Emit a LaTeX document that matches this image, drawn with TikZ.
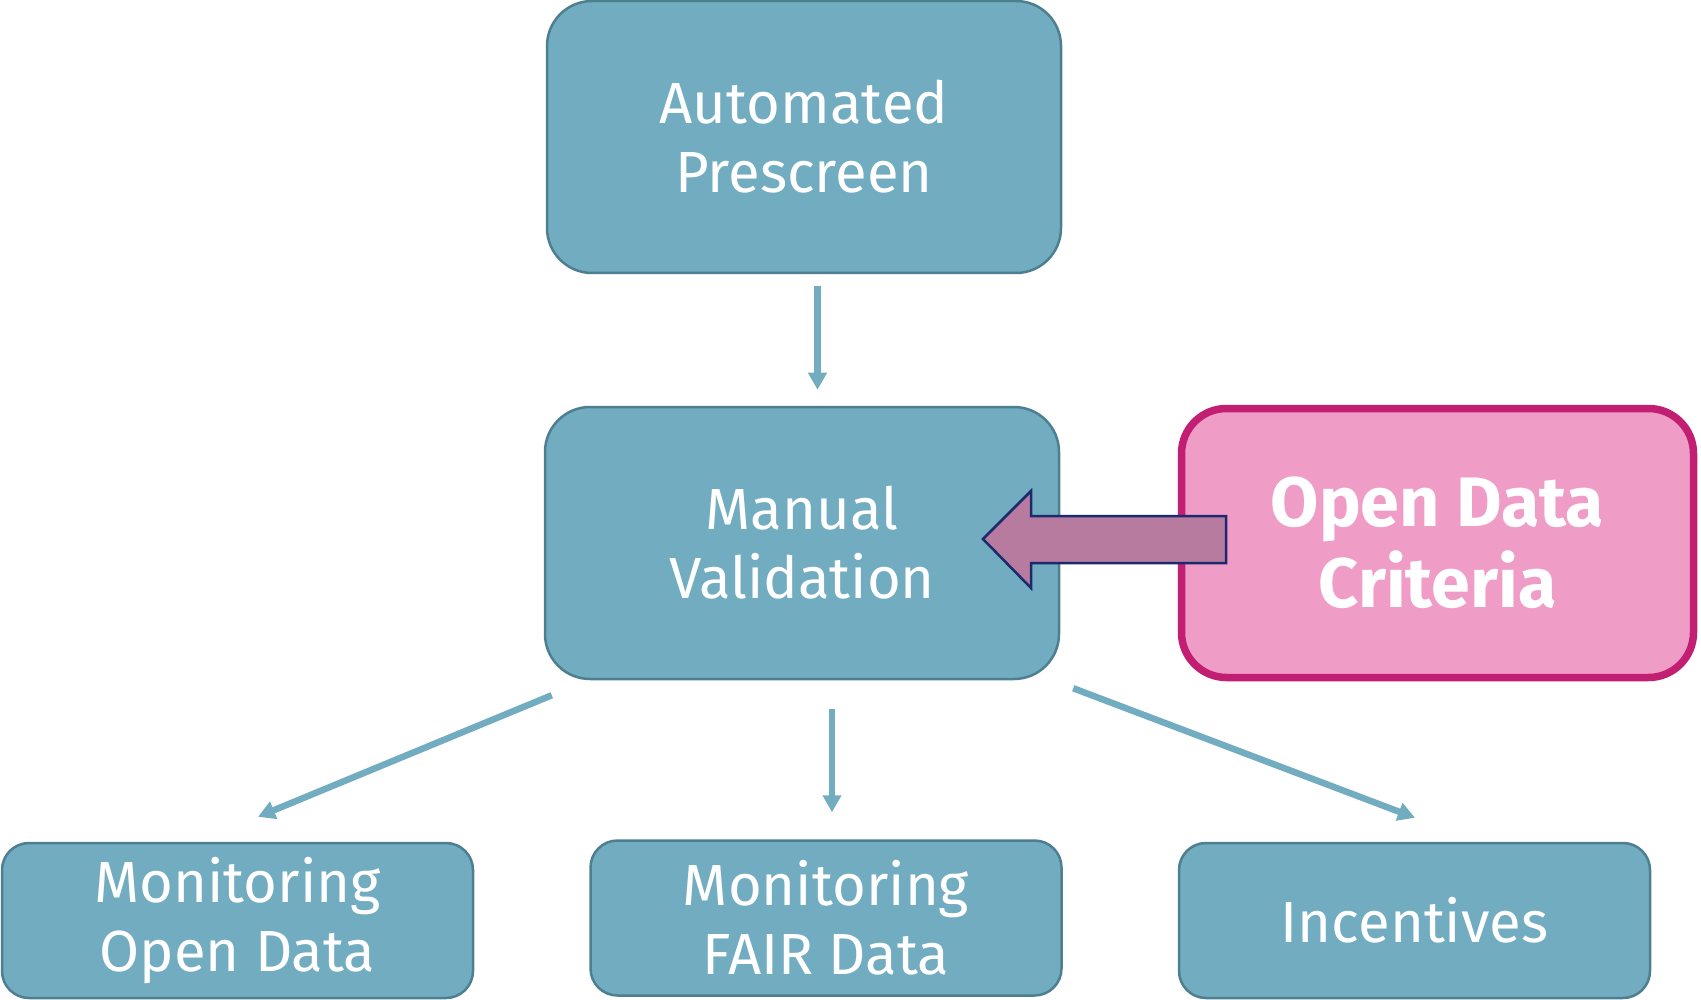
\documentclass[tikz,border=0pt]{standalone}
\usepackage{fontspec}
\setmainfont{Fira Sans}
\usetikzlibrary{arrows.meta}
\definecolor{boxblue}{HTML}{71ACC0}
\definecolor{boxedge}{HTML}{4E7F90}
\definecolor{pinkfill}{HTML}{EF9CC6}
\definecolor{pinkedge}{HTML}{C21F73}
\definecolor{arrfill}{HTML}{B87BA0}
\definecolor{arredge}{HTML}{1A2A6C}
\tikzset{
  bluebox/.style={draw=boxedge, fill=boxblue, line width=2.5pt, text=white,
    align=center, inner sep=0pt, font=\fontsize{58}{69}\selectfont},
  bigbox/.style={bluebox, rounded corners=45pt, minimum width=514pt, minimum height=272pt},
  smallbox/.style={bluebox, rounded corners=27pt, minimum width=471pt, minimum height=155pt},
  pinkbox/.style={draw=pinkedge, fill=pinkfill, line width=7.5pt, text=white,
    align=center, inner sep=0pt, rounded corners=45pt, minimum width=512pt, minimum height=269pt,
    font=\bfseries\fontsize{70}{81}\selectfont},
  conn/.style={draw=boxblue, line width=6.5pt, -{Triangle[width=18pt,length=17pt]}},
  blockarrow/.style={fill=arrfill, draw=arredge, line width=2.5pt, line join=miter}
}
\begin{document}
\begin{tikzpicture}[x=1pt,y=-1pt]
\useasboundingbox (0,0) rectangle (1701,1000);
\node[bigbox] (A) at (804,137) {Automated\\Prescreen};
\node[bigbox] (M) at (802,543) {Manual\\Validation};
\node[pinkbox] (C) at (1437.5,543) {Open Data\\Criteria};
\node[smallbox] (MOD) at (237.5,920.5) {Monitoring\\Open Data};
\node[smallbox] (FAIR) at (826,918) {Monitoring\\FAIR Data};
\node[smallbox] (INC) at (1414.5,920.5) {Incentives};
\draw[conn] ([xshift=13.5pt,yshift=-12pt]A.south) -- ([xshift=15.5pt,yshift=16pt]M.north);
\draw[conn] ([xshift=30pt,yshift=-29pt]M.south) -- ([xshift=6pt,yshift=27pt]FAIR.north);
\draw[conn] ([xshift=8pt,yshift=-15pt]M.south west) -- ([xshift=20.5pt,yshift=25pt]MOD.north);
\draw[conn] ([xshift=13pt,yshift=-8pt]M.south east) -- ([xshift=0.5pt,yshift=24pt]INC.north);
\path[blockarrow] (983,539) -- (1031,491) -- (1031,516) -- (1226,516) -- (1226,563)
  -- (1031,563) -- (1031,588) -- cycle;
\end{tikzpicture}
\end{document}
